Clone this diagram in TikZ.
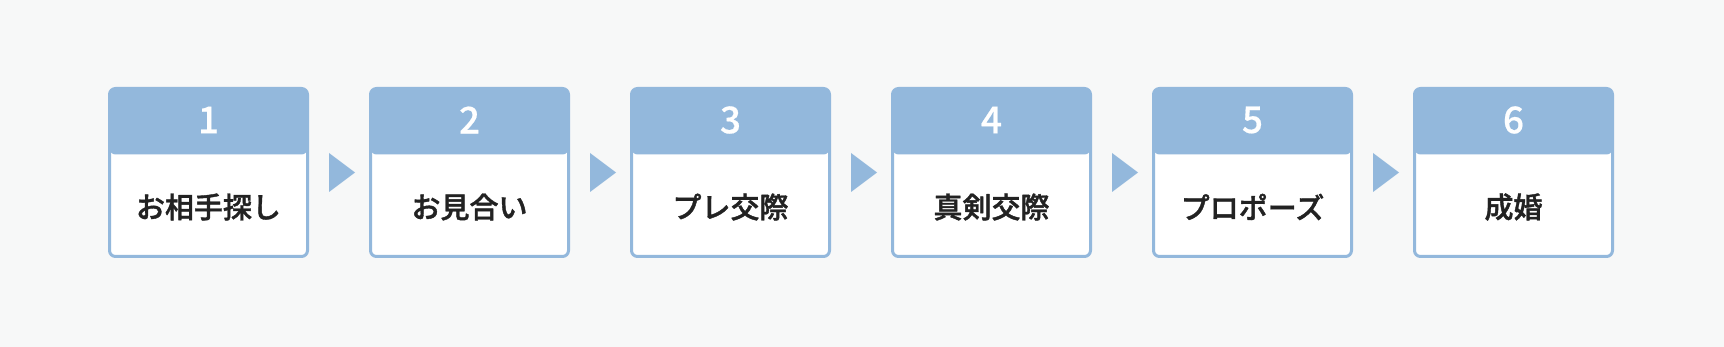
\documentclass[tikz,border=0pt]{standalone}
\usepackage{fontspec}
\setmainfont{Noto Sans CJK JP}
\newfontfamily\jpnum{Noto Sans CJK JP Medium}[FakeBold=0.4]
\newfontfamily\jptext{Noto Sans CJK JP Medium}[FakeBold=1.3]
\usetikzlibrary{calc}

\begin{document}
\begin{tikzpicture}[line cap=round,line join=round,x=1pt,y=-1pt]
\definecolor{bgcol}{rgb}{0.9686,0.9725,0.9725}
\definecolor{hdcol}{rgb}{0.5765,0.7216,0.8627}
\definecolor{txcol}{rgb}{0.1333,0.1333,0.1333}
\tikzset{
  stepbox/.style={draw=hdcol,line width=3pt,fill=white,rounded corners=6pt,
    minimum width=198pt,minimum height=168pt,inner sep=0pt,
    path picture={\fill[hdcol] (path picture bounding box.north west) rectangle ([yshift=-66pt]path picture bounding box.north east);}},
  stepnum/.style={text=white,font=\fontsize{37}{40}\selectfont\jpnum},
  steptext/.style={text=txcol,font=\fontsize{29}{34}\selectfont\jptext}
}
\fill[bgcol] (0,0) rectangle (1724,347);
\useasboundingbox (0,0) rectangle (1724,347);
% boxes
\node[stepbox] (box1) at (208.5,172.5) {};
\node[stepbox] (box2) at (469.5,172.5) {};
\node[stepbox] (box3) at (730.5,172.5) {};
\node[stepbox] (box4) at (991.5,172.5) {};
\node[stepbox] (box5) at (1252.5,172.5) {};
\node[stepbox] (box6) at (1513.5,172.5) {};
% numbers
\node[stepnum] (n1) at ($(box1.north)+(0,33)$) {1};
\node[stepnum] (n2) at ($(box2.north)+(0,33)$) {2};
\node[stepnum] (n3) at ($(box3.north)+(0,33)$) {3};
\node[stepnum] (n4) at ($(box4.north)+(0,33)$) {4};
\node[stepnum] (n5) at ($(box5.north)+(0,33)$) {5};
\node[stepnum] (n6) at ($(box6.north)+(0,33)$) {6};
% labels
\node[steptext] (t1) at ($(box1.center)+(0,34.5)$) {お相手探し};
\node[steptext] (t2) at ($(box2.center)+(0,34.5)$) {お見合い};
\node[steptext] (t3) at ($(box3.center)+(0,34.5)$) {プレ交際};
\node[steptext] (t4) at ($(box4.center)+(0,34.5)$) {真剣交際};
\node[steptext] (t5) at ($(box5.center)+(0,34.5)$) {プロポーズ};
\node[steptext] (t6) at ($(box6.center)+(0,34.5)$) {成婚};
% arrows
\coordinate (a1) at ($(box1.east)!0.5!(box2.west)$);
\coordinate (a2) at ($(box2.east)!0.5!(box3.west)$);
\coordinate (a3) at ($(box3.east)!0.5!(box4.west)$);
\coordinate (a4) at ($(box4.east)!0.5!(box5.west)$);
\coordinate (a5) at ($(box5.east)!0.5!(box6.west)$);
\fill[hdcol] ($(a1)+(-10,-19.5)$) -- ($(a1)+(16,0)$) -- ($(a1)+(-10,19.5)$) -- cycle;
\fill[hdcol] ($(a2)+(-10,-19.5)$) -- ($(a2)+(16,0)$) -- ($(a2)+(-10,19.5)$) -- cycle;
\fill[hdcol] ($(a3)+(-10,-19.5)$) -- ($(a3)+(16,0)$) -- ($(a3)+(-10,19.5)$) -- cycle;
\fill[hdcol] ($(a4)+(-10,-19.5)$) -- ($(a4)+(16,0)$) -- ($(a4)+(-10,19.5)$) -- cycle;
\fill[hdcol] ($(a5)+(-10,-19.5)$) -- ($(a5)+(16,0)$) -- ($(a5)+(-10,19.5)$) -- cycle;
\end{tikzpicture}
\end{document}
